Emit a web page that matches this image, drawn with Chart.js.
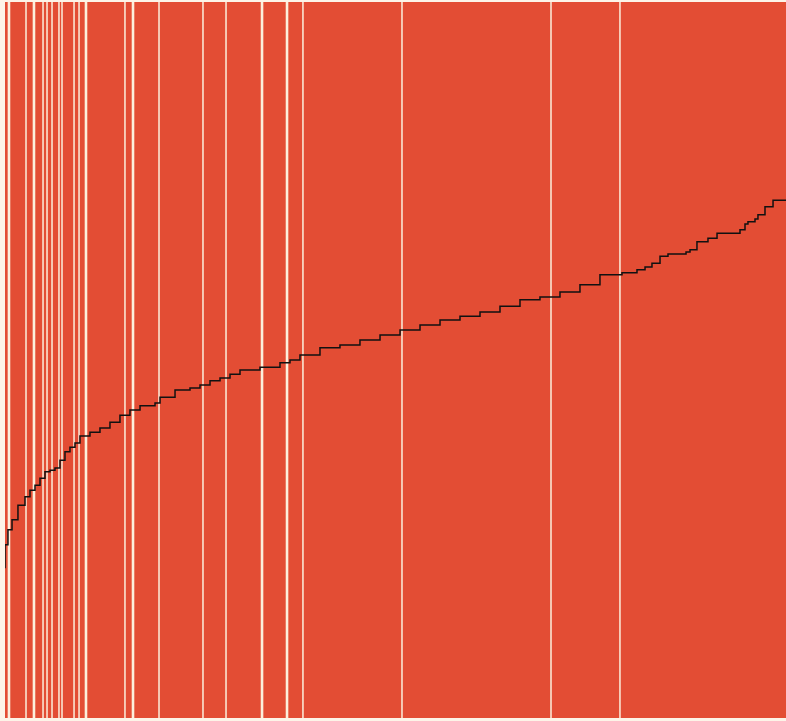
<!DOCTYPE html>
<html>
<head>
<meta charset="utf-8">
<script src="https://cdn.jsdelivr.net/npm/chart.js@4.4.1/dist/chart.umd.min.js"></script>
<style>
  html, body { margin: 0; padding: 0; background: #fdf4e8; }
  #wrap { width: 786px; height: 721px; }
</style>
</head>
<body>
<div id="wrap"><canvas id="chart"></canvas></div>
<script>
"use strict";

// percentile rank (x) and sorted value (y) for the step curve
const pctRank = [0, 0.38, 0.90, 1.66, 2.56, 3.20, 3.84, 4.48, 5.12, 5.76, 6.40, 7.04, 7.68, 8.32, 8.96, 9.60,
  10.88, 12.16, 13.44, 14.72, 16.0, 17.29, 19.21, 19.85, 21.77, 23.69, 24.97, 26.25, 27.53, 28.81, 30.09,
  32.65, 35.21, 36.49, 37.77, 40.33, 42.89, 45.45, 48.02, 50.58, 53.14, 55.70, 58.26, 60.82, 63.38, 65.94,
  68.50, 71.06, 73.62, 76.18, 79.0, 80.92, 81.95, 82.84, 83.87, 84.89, 87.20, 87.71, 88.60, 90.01, 91.17,
  94.11, 94.75, 95.13, 96.03, 96.41, 97.31, 98.34, 99.23, 100];
const values = [20.9, 24.2, 26.3, 27.7, 29.7, 30.9, 31.8, 32.5, 33.5, 34.4, 34.6, 34.9, 36.0, 37.2, 37.8, 38.4,
  39.4, 39.9, 40.5, 41.3, 42.3, 43.0, 43.6, 44.0, 44.8, 45.8, 46.1, 46.5, 47.1, 47.5, 48.0,
  48.6, 49.0, 49.6, 50.0, 50.7, 51.7, 52.1, 52.8, 53.5, 54.2, 54.9, 55.6, 56.1, 56.7, 57.5,
  58.4, 58.8, 59.5, 60.5, 61.9, 62.2, 62.6, 63.0, 63.5, 64.5, 64.8, 65.1, 65.4, 66.5, 67.0,
  67.7, 68.2, 69.0, 69.3, 69.7, 70.3, 71.4, 72.3, 72.3];

// band boundaries, on the same percentile axis
const thinCuts = [2.69, 4.87, 5.38, 6.02, 6.91, 7.30, 8.84, 9.48, 15.36, 19.72, 25.35, 28.30, 38.15, 50.83, 69.91, 78.74];
const wideCuts = [0.51, 3.71, 10.37, 16.39, 32.91, 36.11];

const bandColor = '#e34d34';
const cutColor = '#fcefdc';

function cutLines(cuts) {
  const pts = [];
  cuts.forEach(function (c) {
    pts.push({x: c, y: 0}, {x: c, y: 100}, {x: c, y: null});
  });
  return pts;
}

// red plot area behind everything
const bandFill = {
  id: 'bandFill',
  beforeDatasetsDraw: function (chart) {
    const a = chart.chartArea;
    const ctx = chart.ctx;
    ctx.save();
    ctx.fillStyle = bandColor;
    ctx.fillRect(a.left, a.top, a.right - a.left, a.bottom - a.top);
    ctx.restore();
  }
};

const config = {
  type: 'line',
  data: {
    datasets: [
      {
        data: pctRank.map(function (x, i) { return {x: x, y: values[i]}; }),
        borderColor: '#111111',
        borderWidth: 1.5,
        stepped: 'after',
        pointRadius: 0,
        fill: false
      },
      {
        data: cutLines(thinCuts),
        borderColor: cutColor,
        borderWidth: 1.5,
        pointRadius: 0,
        spanGaps: false
      },
      {
        data: cutLines(wideCuts),
        borderColor: cutColor,
        borderWidth: 2.6,
        pointRadius: 0,
        spanGaps: false
      }
    ]
  },
  options: {
    responsive: true,
    maintainAspectRatio: false,
    animation: false,
    layout: { padding: { left: 5, top: 2, right: 0, bottom: 3 } },
    scales: {
      x: { type: 'linear', min: 0, max: 100, display: false },
      y: { min: 0, max: 100, display: false }
    },
    plugins: { legend: { display: false }, tooltip: { enabled: false } }
  },
  plugins: [bandFill]
};

const myChart = new Chart(document.getElementById('chart'), config);
</script>
</body>
</html>
